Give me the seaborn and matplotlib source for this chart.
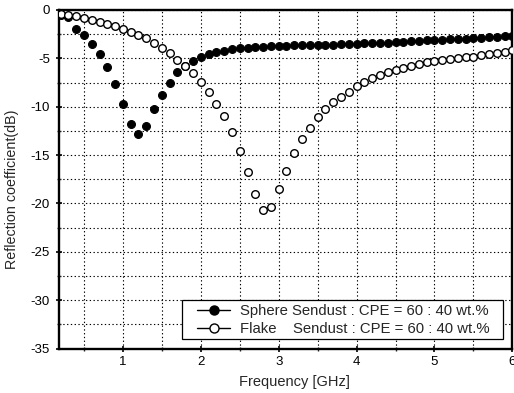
import matplotlib
matplotlib.use("Agg")
import matplotlib.pyplot as plt
from matplotlib.lines import Line2D
from matplotlib.patches import Rectangle
from matplotlib.ticker import MultipleLocator
import pandas as pd
import seaborn as sns

# Measurement frequencies (GHz)
frequency_ghz = [
    0.2, 0.3, 0.4, 0.5, 0.6, 0.7, 0.8, 0.9, 1.0, 1.1,
    1.2, 1.3, 1.4, 1.5, 1.6, 1.7, 1.8, 1.9, 2.0, 2.1,
    2.2, 2.3, 2.4, 2.5, 2.6, 2.7, 2.8, 2.9, 3.0, 3.1,
    3.2, 3.3, 3.4, 3.5, 3.6, 3.7, 3.8, 3.9, 4.0, 4.1,
    4.2, 4.3, 4.4, 4.5, 4.6, 4.7, 4.8, 4.9, 5.0, 5.1,
    5.2, 5.3, 5.4, 5.5, 5.6, 5.7, 5.8, 5.9, 6.0,
]

# Reflection coefficient (dB), sphere-shaped sendust composite
sphere_db = [
    -0.50, -0.70, -2.00, -2.62, -3.48, -4.55, -5.86, -7.62, -9.69, -11.82,
    -12.79, -12.00, -10.27, -8.76, -7.52, -6.45, -5.75, -5.30, -4.83, -4.55,
    -4.38, -4.24, -4.08, -3.98, -3.90, -3.82, -3.78, -3.74, -3.70, -3.68,
    -3.67, -3.66, -3.65, -3.60, -3.58, -3.57, -3.55, -3.53, -3.48, -3.46,
    -3.44, -3.40, -3.37, -3.34, -3.30, -3.25, -3.20, -3.15, -3.10, -3.07,
    -3.03, -3.00, -2.97, -2.93, -2.88, -2.83, -2.78, -2.73, -2.69,
]

# Reflection coefficient (dB), flake-shaped sendust composite
flake_db = [
    -0.45, -0.52, -0.65, -0.85, -1.00, -1.20, -1.45, -1.70, -1.95, -2.25,
    -2.55, -2.90, -3.40, -3.90, -4.45, -5.15, -5.75, -6.55, -7.45, -8.50,
    -9.70, -11.00, -12.60, -14.60, -16.75, -19.00, -20.70, -20.35, -18.50, -16.60,
    -14.80, -13.30, -12.15, -11.10, -10.27, -9.48, -8.98, -8.45, -7.90, -7.45,
    -7.05, -6.72, -6.42, -6.20, -5.95, -5.75, -5.55, -5.42, -5.32, -5.22,
    -5.10, -5.00, -4.90, -4.83, -4.70, -4.58, -4.45, -4.32, -4.15,
]

legend_labels = [
    "Sphere Sendust : CPE = 60 : 40 wt.%",
    "Flake    Sendust : CPE = 60 : 40 wt.%",
]

x_ticks = [1, 2, 3, 4, 5, 6]
y_ticks = [0, -5, -10, -15, -20, -25, -30, -35]

sns.set_theme(style="ticks")
plt.rcParams["font.family"] = ["Liberation Sans", "DejaVu Sans"]
plt.rcParams["axes.unicode_minus"] = False

sphere = pd.DataFrame({"freq": frequency_ghz, "rc": sphere_db})
flake = pd.DataFrame({"freq": frequency_ghz, "rc": flake_db})

fig = plt.figure(figsize=(5.14, 3.93), dpi=100)
ax = fig.add_axes([0.1148, 0.1132, 0.8820, 0.8614])

sns.scatterplot(data=sphere, x="freq", y="rc", ax=ax, marker="o", s=32,
                color="black", edgecolor="black", linewidth=0.8, zorder=3,
                legend=False)
sns.scatterplot(data=flake, x="freq", y="rc", ax=ax, marker="o", s=30,
                color="white", edgecolor="black", linewidth=1.0, zorder=4,
                legend=False)

ax.set_xlim(0.18, 6.0)
ax.set_ylim(-35, 0)
ax.set_xticks(x_ticks)
ax.set_xticklabels([str(t) for t in x_ticks])
ax.set_yticks(y_ticks)
ax.set_yticklabels([str(t) for t in y_ticks])
ax.xaxis.set_minor_locator(MultipleLocator(0.5))
ax.yaxis.set_minor_locator(MultipleLocator(2.5))

ax.grid(which="both", linestyle=(0, (1.2, 2.2)), color="black", linewidth=0.8)
ax.set_axisbelow(True)

ax.tick_params(which="major", direction="inout", length=5, width=1.2,
               labelsize=9.5, colors="black", pad=3)
ax.tick_params(which="minor", direction="inout", length=3, width=1.0)
ax.tick_params(axis="y", which="major", pad=4)
for side in ["left", "bottom", "top", "right"]:
    ax.spines[side].set_visible(True)
    ax.spines[side].set_color("black")
    ax.spines[side].set_linewidth(1.7)

ax.set_xlabel("Frequency [GHz]", fontsize=10.5)
ax.set_ylabel("Reflection coefficient(dB)", fontsize=10.3)
ax.xaxis.set_label_coords(0.52, -0.077)
ax.yaxis.set_label_coords(-0.089, 0.47)

handles = [
    Line2D([], [], color="black", lw=1.0, marker="o", markersize=6.5,
           markerfacecolor="black", markeredgecolor="black"),
    Line2D([], [], color="black", lw=1.0, marker="o", markersize=6.5,
           markerfacecolor="white", markeredgecolor="black"),
]
leg = ax.legend(handles, legend_labels, loc="lower right",
                bbox_to_anchor=(0.949, 0.037), fontsize=10.7,
                frameon=False, handlelength=2.2, handletextpad=0.65,
                borderpad=0.0, labelspacing=0.28, borderaxespad=0)
leg.set_zorder(6)

# Frame around the legend with wider side margins
fig.canvas.draw()
bb = leg.get_window_extent()
inv = ax.transAxes.inverted()
(x0, y0) = inv.transform((bb.x0 - 15, bb.y0 - 3))
(x1, y1) = inv.transform((bb.x1 + 14, bb.y1 + 4))
frame = Rectangle((x0, y0), x1 - x0, y1 - y0, transform=ax.transAxes,
                  facecolor="white", edgecolor="black", linewidth=0.9,
                  zorder=5)
ax.add_patch(frame)

fig.savefig("out.png", dpi=100)
